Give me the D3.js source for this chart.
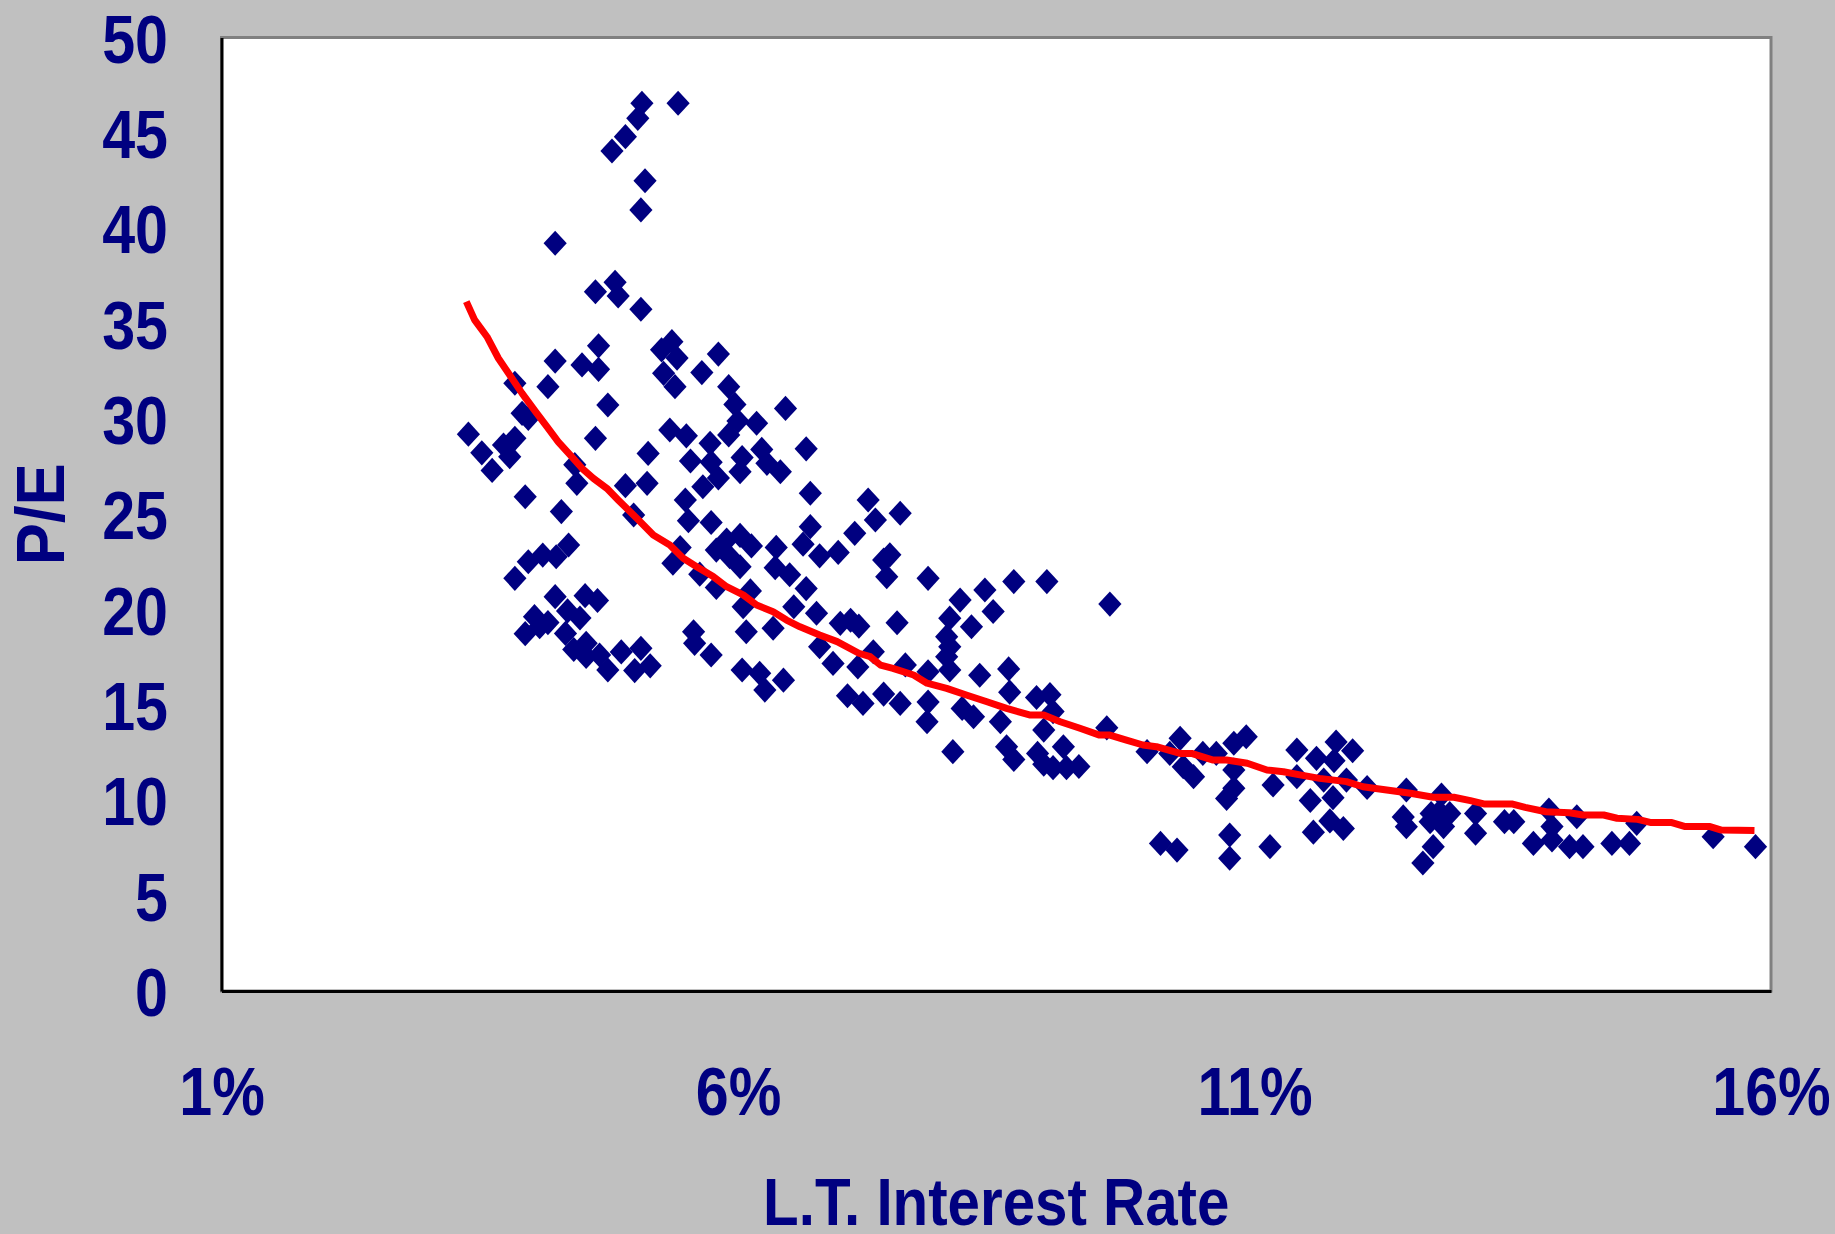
<!DOCTYPE html>
<html>
<head>
<meta charset="utf-8">
<script src="https://cdn.jsdelivr.net/npm/d3@7"></script>
<style>
  html, body { margin: 0; padding: 0; background: #c0c0c0; overflow: hidden; }
  svg { display: block; }
</style>
</head>
<body>
<svg id="chart" width="1835" height="1234"></svg>
<script>
// Long-term interest rate (%) of each observation
const rateValues = [
  5.07, 5.42, 5.03, 4.91, 4.78, 5.10, 5.06, 4.23, 4.62, 4.81, 4.84, 5.06,
  4.65, 4.23, 4.49, 4.65, 4.16, 3.84, 5.26, 5.36, 5.41, 5.28, 5.39, 5.65,
  5.81, 5.91, 4.74, 6.46, 5.97, 3.91, 3.97, 3.39, 3.52, 3.62, 3.73, 3.84,
  3.79, 4.62, 5.13, 4.42, 4.44, 4.91, 5.12, 3.94, 4.29, 4.99, 6.00, 6.18,
  5.91, 5.34, 5.50, 5.73, 6.66, 5.54, 5.74, 6.04, 6.23, 6.41, 6.02, 5.66,
  5.81, 6.70, 5.49, 5.52, 5.74, 6.70, 7.13, 5.89, 6.02, 6.13, 5.79, 5.92,
  6.02, 6.37, 6.63, 6.79, 6.97, 6.36, 6.50, 6.66, 5.44, 5.37, 5.63, 5.79,
  6.12, 6.05, 6.54, 6.76, 6.99, 7.09, 7.17, 6.34, 6.08, 6.79, 6.92, 7.16,
  7.06, 5.57, 5.58, 5.74, 6.04, 6.21, 6.26, 6.44, 3.84, 3.97, 4.11, 4.24,
  4.36, 4.23, 4.52, 4.64, 4.03, 3.94, 4.08, 4.16, 4.35, 4.47, 4.33, 4.41,
  4.53, 4.53, 4.66, 4.74, 4.87, 5.00, 5.06, 5.15, 7.26, 7.33, 7.57, 7.41,
  7.47, 7.44, 7.84, 8.39, 8.67, 8.99, 9.60, 8.15, 8.47, 8.05, 8.26, 7.54,
  8.02, 8.05, 8.02, 7.31, 7.62, 7.84, 8.05, 8.34, 8.62, 7.21, 7.41, 7.57,
  7.84, 7.83, 8.08, 8.17, 8.28, 8.63, 8.89, 9.02, 9.05, 8.54, 8.96, 8.60,
  8.67, 8.90, 8.96, 9.05, 9.15, 9.18, 9.30, 9.57, 9.96, 10.28, 10.18, 10.31,
  10.41, 10.50, 10.63, 10.80, 10.92, 10.80, 10.80, 10.73, 10.09, 10.25, 10.76, 10.76,
  11.15, 11.18, 11.41, 11.41, 11.60, 11.67, 11.79, 11.77, 11.95, 11.89, 11.54, 11.76,
  11.73, 11.86, 11.57, 12.09, 12.47, 12.44, 12.47, 12.81, 12.79, 12.89, 12.71, 12.70,
  12.83, 12.73, 12.63, 13.14, 13.14, 13.42, 13.51, 13.85, 13.88, 13.70, 13.88, 14.05,
  14.12, 14.18, 14.46, 14.63, 14.70, 15.44, 15.85, 6.28
];

// Price / earnings ratio of each observation
const peValues = [
  46.55, 46.55, 45.76, 44.80, 44.05, 42.49, 40.96, 39.21, 36.67, 37.16, 36.45, 35.75,
  33.83, 33.03, 32.83, 32.60, 31.69, 31.87, 33.62, 34.05, 33.19, 32.39, 31.69, 32.43,
  33.40, 31.69, 30.73, 30.55, 30.76, 30.29, 30.03, 29.20, 28.22, 27.30, 28.63, 28.98,
  28.02, 28.98, 28.19, 27.60, 26.62, 26.50, 26.62, 25.92, 25.14, 24.96, 29.89, 29.77,
  29.16, 29.42, 29.11, 28.72, 28.43, 27.79, 27.73, 27.97, 28.40, 27.23, 27.23, 26.44,
  26.90, 26.10, 25.75, 24.66, 24.57, 24.35, 24.00, 23.65, 23.89, 23.34, 23.12, 22.77,
  22.25, 23.26, 23.43, 22.82, 23.00, 22.20, 21.83, 21.10, 23.25, 22.43, 21.86, 21.16,
  20.98, 20.15, 20.15, 19.81, 19.28, 19.44, 19.13, 19.02, 18.84, 18.05, 17.18, 16.99,
  15.48, 18.84, 18.23, 17.62, 16.83, 16.66, 15.78, 16.30, 21.64, 22.51, 22.86, 22.77,
  23.39, 20.68, 20.73, 20.48, 19.63, 18.74, 19.10, 19.32, 19.93, 19.56, 18.75, 17.91,
  18.23, 17.54, 17.62, 16.83, 17.78, 16.80, 17.97, 17.05, 25.75, 24.70, 25.05, 22.60,
  22.87, 21.72, 21.64, 21.03, 21.47, 21.47, 20.29, 20.50, 19.90, 19.55, 19.10, 19.31,
  18.58, 18.05, 17.53, 17.79, 17.10, 16.74, 16.83, 16.56, 16.89, 15.08, 15.57, 15.08,
  15.15, 14.12, 12.55, 14.82, 14.38, 15.67, 15.39, 15.54, 14.65, 14.12, 13.68, 12.81,
  12.14, 12.46, 11.89, 11.71, 12.81, 11.71, 11.77, 13.80, 12.55, 13.25, 12.46, 11.76,
  11.24, 12.46, 12.46, 12.99, 13.33, 11.59, 10.63, 10.10, 7.74, 7.39, 8.18, 6.96,
  7.57, 10.80, 12.64, 11.24, 12.20, 11.06, 13.06, 12.08, 12.60, 11.06, 9.99, 10.14,
  8.92, 8.52, 8.33, 10.67, 10.54, 9.13, 8.61, 10.28, 9.40, 9.31, 9.31, 8.88,
  8.62, 7.57, 6.71, 9.31, 8.27, 8.88, 8.88, 9.49, 8.62, 7.74, 7.92, 7.57,
  9.14, 7.57, 7.74, 7.74, 8.79, 8.09, 7.57, 27.67
];

// Fitted P/E curve against the interest rate
const fitRates = [
  3.37, 3.45, 3.57, 3.68, 3.79, 3.91, 4.04, 4.15, 4.26, 4.39, 4.49, 4.60,
  4.73, 4.84, 5.02, 5.18, 5.34, 5.47, 5.60, 5.76, 5.89, 6.05, 6.18, 6.34,
  6.47, 6.60, 6.79, 6.96, 7.17, 7.28, 7.38, 7.50, 7.70, 7.83, 8.02, 8.21,
  8.41, 8.60, 8.83, 8.96, 9.12, 9.31, 9.50, 9.60, 9.76, 9.92, 10.05, 10.28,
  10.39, 10.60, 10.73, 10.93, 11.12, 11.28, 11.44, 11.63, 11.89, 12.05, 12.28, 12.51,
  12.73, 12.93, 13.09, 13.22, 13.49, 13.62, 13.82, 14.05, 14.18, 14.38, 14.51, 14.71,
  14.84, 15.04, 15.17, 15.41, 15.52, 15.84
];
const fitPE = [
  36.15, 35.19, 34.31, 33.18, 32.30, 31.34, 30.38, 29.59, 28.80, 28.02, 27.41, 26.88,
  26.36, 25.75, 24.79, 23.91, 23.39, 22.69, 22.25, 21.73, 21.20, 20.77, 20.24, 19.89,
  19.45, 19.10, 18.67, 18.32, 17.71, 17.53, 17.09, 16.92, 16.57, 16.14, 15.87, 15.52,
  15.17, 14.82, 14.47, 14.47, 14.12, 13.78, 13.42, 13.42, 13.16, 12.90, 12.81, 12.46,
  12.46, 12.11, 12.11, 11.94, 11.59, 11.50, 11.33, 11.15, 10.98, 10.71, 10.54, 10.37,
  10.16, 10.16, 9.98, 9.81, 9.81, 9.63, 9.40, 9.35, 9.23, 9.23, 9.06, 9.00,
  8.83, 8.83, 8.62, 8.62, 8.44, 8.41
];

// Axis ticks
const yTickValues = [0, 5, 10, 15, 20, 25, 30, 35, 40, 45, 50];
const xTickValues = [1, 6, 11, 16];
const xTickLabels = ["1%", "6%", "11%", "16%"];

const xTitle = "L.T. Interest Rate";
const yTitle = "P/E";

const navy = "#000080";
const fontFamily = "'Liberation Sans', Arial, Helvetica, sans-serif";
const textSquash = 0.87;   // narrow bold lettering

const svg = d3.select("#chart");
const width = 1835, height = 1234;
const plot = { left: 221.5, right: 1771, top: 37.5, bottom: 991 };

svg.append("rect").attr("width", width).attr("height", height).attr("fill", "#c0c0c0");

const x = d3.scaleLinear().domain([1, 16]).range([plot.left, plot.right]);
const y = d3.scaleLinear().domain([0, 50]).range([plot.bottom, plot.top]);

// Plot area with grey frame
svg.append("rect")
  .attr("x", plot.left).attr("y", plot.top)
  .attr("width", plot.right - plot.left).attr("height", plot.bottom - plot.top)
  .attr("fill", "#ffffff")
  .attr("stroke", "#808080").attr("stroke-width", 3);

// Y axis
const yAxis = svg.append("g")
  .attr("transform", `translate(${plot.left},0)`)
  .call(d3.axisLeft(y).tickValues(yTickValues).tickSize(0).tickSizeOuter(0).tickFormat(d3.format("d")));
yAxis.select(".domain").attr("stroke", "#000").attr("stroke-width", 3);
yAxis.selectAll(".tick text")
  .attr("x", 0).attr("y", 0).attr("dy", null)
  .attr("text-anchor", "end")
  .attr("transform", `translate(-53.5,24.5) scale(${textSquash},1)`)
  .attr("fill", navy)
  .style("font-family", fontFamily).style("font-weight", "bold").style("font-size", "68px");

// X axis
const xAxis = svg.append("g")
  .attr("transform", `translate(0,${plot.bottom})`)
  .call(d3.axisBottom(x).tickValues(xTickValues).tickSize(0).tickSizeOuter(0)
    .tickFormat((d, i) => xTickLabels[i]));
xAxis.select(".domain").attr("stroke", "#000").attr("stroke-width", 3);
xAxis.selectAll(".tick text")
  .attr("x", 0).attr("y", 0).attr("dy", null)
  .attr("text-anchor", "middle")
  .attr("transform", `translate(0,124) scale(${textSquash},1)`)
  .attr("fill", navy)
  .style("font-family", fontFamily).style("font-weight", "bold").style("font-size", "68px");

// Axis titles
svg.append("text")
  .attr("transform", `translate(${(plot.left + plot.right) / 2},1225) scale(${textSquash},1)`)
  .attr("text-anchor", "middle")
  .attr("fill", navy)
  .style("font-family", fontFamily).style("font-weight", "bold").style("font-size", "67px")
  .text(xTitle);

svg.append("text")
  .attr("transform", `translate(64,${(plot.top + plot.bottom) / 2}) rotate(-90) scale(0.93,1)`)
  .attr("text-anchor", "middle")
  .attr("fill", navy)
  .style("font-family", fontFamily).style("font-weight", "bold").style("font-size", "68px")
  .text(yTitle);

// Diamond markers
const diamondMark = {
  draw(ctx, size) {
    const r = Math.sqrt(size / 2);
    ctx.moveTo(0, -r * 1.04);
    ctx.lineTo(r * 0.96, 0);
    ctx.lineTo(0, r * 1.04);
    ctx.lineTo(-r * 0.96, 0);
    ctx.closePath();
  }
};
const points = rateValues.map((r, i) => ({ rate: r, pe: peValues[i] }));
svg.append("g")
  .selectAll("path")
  .data(points)
  .join("path")
  .attr("transform", d => `translate(${x(d.rate)},${y(d.pe)})`)
  .attr("d", d3.symbol().type(diamondMark).size(292))
  .attr("fill", navy);

// Fitted curve
const curve = fitRates.map((r, i) => ({ rate: r, pe: fitPE[i] }));
svg.append("path")
  .datum(curve)
  .attr("fill", "none")
  .attr("stroke", "#ff0000")
  .attr("stroke-width", 7)
  .attr("stroke-linejoin", "round")
  .attr("d", d3.line().x(d => x(d.rate)).y(d => y(d.pe)));
</script>
</body>
</html>
